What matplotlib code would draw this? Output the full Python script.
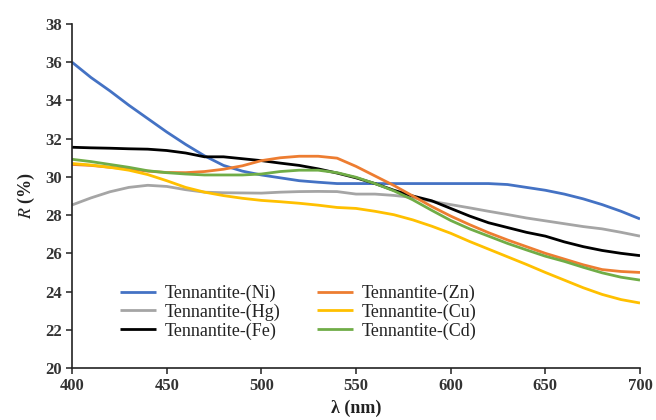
import matplotlib
matplotlib.use("Agg")
import matplotlib.pyplot as plt

wl = list(range(400, 701, 10))

ni = [36.0, 35.2, 34.5, 33.75, 33.05, 32.35, 31.7, 31.1, 30.6, 30.3, 30.1, 29.95, 29.8, 29.72, 29.65, 29.65,
      29.65, 29.65, 29.65, 29.65, 29.65, 29.65, 29.65, 29.6, 29.45, 29.3, 29.1, 28.85, 28.55, 28.2, 27.8]
zn = [30.65, 30.6, 30.5, 30.42, 30.3, 30.23, 30.22, 30.28, 30.4, 30.58, 30.85, 31.0, 31.08, 31.08, 30.98, 30.55,
      30.05, 29.55, 29.0, 28.45, 27.95, 27.5, 27.08, 26.7, 26.35, 26.0, 25.7, 25.4, 25.15, 25.05, 25.0]
hg = [28.53, 28.9, 29.22, 29.45, 29.56, 29.5, 29.33, 29.2, 29.17, 29.16, 29.15, 29.2, 29.23, 29.24, 29.23, 29.1,
      29.1, 29.03, 28.92, 28.72, 28.55, 28.38, 28.2, 28.03, 27.85, 27.7, 27.55, 27.4, 27.28, 27.1, 26.9]
cu = [30.7, 30.62, 30.5, 30.35, 30.12, 29.8, 29.45, 29.2, 29.02, 28.88, 28.77, 28.7, 28.62, 28.52, 28.4, 28.35,
      28.2, 28.02, 27.75, 27.42, 27.05, 26.62, 26.22, 25.82, 25.42, 25.0, 24.6, 24.2, 23.85, 23.58, 23.4]
fe = [31.55, 31.52, 31.5, 31.47, 31.45, 31.38, 31.25, 31.05, 31.05, 30.95, 30.85, 30.72, 30.6, 30.42, 30.2, 29.95,
      29.65, 29.3, 29.0, 28.75, 28.35, 27.95, 27.6, 27.35, 27.1, 26.9, 26.6, 26.35, 26.15, 26.0, 25.88]
cd = [30.92, 30.8, 30.65, 30.5, 30.32, 30.22, 30.15, 30.1, 30.1, 30.1, 30.15, 30.28, 30.35, 30.35, 30.22, 29.98,
      29.65, 29.27, 28.8, 28.25, 27.72, 27.28, 26.9, 26.52, 26.18, 25.85, 25.58, 25.27, 24.98, 24.75, 24.6]

labels = ["Tennantite-(Ni)", "Tennantite-(Hg)", "Tennantite-(Fe)",
          "Tennantite-(Zn)", "Tennantite-(Cu)", "Tennantite-(Cd)"]
series = [ni, hg, fe, zn, cu, cd]
colors = ["#4472C4", "#A5A5A5", "#000000", "#ED7D31", "#FFC000", "#70AD47"]

xticks = [400, 450, 500, 550, 600, 650, 700]
yticks = [20, 22, 24, 26, 28, 30, 32, 34, 36, 38]

plt.rcParams["font.family"] = ["Liberation Serif", "DejaVu Serif"]
plt.rcParams["mathtext.fontset"] = "stix"

fig = plt.figure(figsize=(6.56, 4.2), dpi=100)
ax = fig.add_axes([0.1098, 0.1238, 0.8658, 0.8191])

for s, c, lab in zip(series, colors, labels):
    ax.plot(wl, s, color=c, lw=2.0, label=lab, solid_capstyle="butt")

ax.set_xlim(400, 700)
ax.set_ylim(20, 38)
ax.set_xticks(xticks)
ax.set_yticks(yticks)
for sp in ["top", "right"]:
    ax.spines[sp].set_visible(False)
for sp in ["left", "bottom"]:
    ax.spines[sp].set_linewidth(1.2)
    ax.spines[sp].set_color("#222222")
ax.tick_params(axis="both", direction="out", length=4, width=1.2, labelsize=12, colors="#333333")
for t in ax.get_xticklabels() + ax.get_yticklabels():
    t.set_fontweight("bold")

ax.set_xlabel("λ (nm)", fontsize=13, fontweight="bold", labelpad=4, color="#222222")
ax.set_ylabel(r"$\mathit{R}$ (%)", fontsize=13, fontweight="bold", labelpad=6, color="#222222")

leg = ax.legend(ncol=2, loc="upper left", bbox_to_anchor=(0.0845, 0.242), frameon=False,
                handlelength=2.0, columnspacing=2.0, labelspacing=0.08, borderpad=0,
                borderaxespad=0, handletextpad=0.5, prop={"size": 13})
for t in leg.get_texts():
    t.set_color("#222222")

fig.savefig("out.png", dpi=100)
